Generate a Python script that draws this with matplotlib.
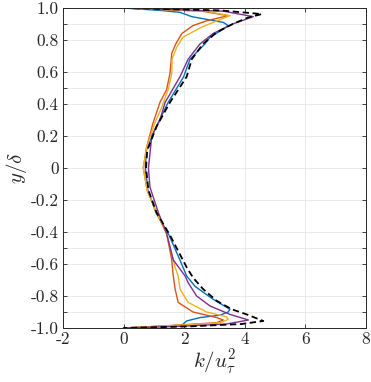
import matplotlib
matplotlib.use("Agg")
import matplotlib.pyplot as plt

# y/delta positions and k/u_tau^2 values, wall to wall
# black dashed reference
y_ref = [1.0, 0.985, 0.962, 0.94, 0.90, 0.848, 0.775, 0.68, 0.57, 0.41, 0.26, 0.11, 0.0,
         -0.14, -0.28, -0.42, -0.62, -0.685, -0.756, -0.83, -0.883, -0.915, -0.956, -0.975, -0.99, -1.0]
k_ref = [0.0, 3.2, 4.56, 4.1, 3.6, 3.07, 2.62, 2.25, 2.08, 1.53, 1.09, 0.78, 0.74,
         0.82, 1.09, 1.53, 2.08, 2.29, 2.62, 3.07, 3.57, 4.06, 4.61, 3.9, 2.2, 0.0]

y_blue = [1.0, 0.985, 0.973, 0.946, 0.91, 0.89, 0.875, 0.817, 0.775, 0.68, 0.57, 0.41, 0.24, 0.11, 0.0,
          -0.14, -0.28, -0.42, -0.575, -0.675, -0.74, -0.82, -0.883, -0.90, -0.92, -0.935, -0.956, -0.983, -1.0]
k_blue = [0.0, 1.2, 1.86, 2.25, 3.29, 3.45, 3.35, 2.85, 2.68, 2.19, 1.98, 1.47, 1.03, 0.75, 0.72,
          0.80, 1.07, 1.50, 1.86, 2.08, 2.36, 2.95, 3.51, 3.45, 3.18, 2.52, 2.08, 1.92, 0.0]

y_orange = [1.0, 0.98, 0.952, 0.92, 0.89, 0.84, 0.775, 0.717, 0.59, 0.49, 0.41, 0.28, 0.13, 0.0,
            -0.14, -0.28, -0.41, -0.575, -0.66, -0.756, -0.84, -0.90, -0.935, -0.95, -0.967, -0.985, -1.0]
k_orange = [0.0, 2.6, 3.45, 2.74, 2.29, 1.92, 1.72, 1.59, 1.53, 1.42, 1.20, 0.97, 0.76, 0.65,
            0.78, 1.09, 1.42, 1.59, 1.63, 1.70, 1.80, 2.29, 3.07, 3.29, 3.07, 1.5, 0.0]

y_yellow = [1.0, 0.98, 0.952, 0.91, 0.875, 0.817, 0.754, 0.68, 0.59, 0.49, 0.38, 0.28, 0.13, 0.0,
            -0.14, -0.28, -0.41, -0.62, -0.675, -0.756, -0.84, -0.90, -0.93, -0.946, -0.967, -0.985, -1.0]
k_yellow = [0.0, 2.7, 3.51, 2.95, 2.52, 1.96, 1.75, 1.60, 1.59, 1.47, 1.26, 1.03, 0.76, 0.65,
            0.78, 1.09, 1.42, 1.70, 1.80, 1.86, 2.13, 2.74, 3.40, 3.45, 3.2, 1.6, 0.0]

y_purple = [1.0, 0.98, 0.946, 0.90, 0.84, 0.775, 0.68, 0.57, 0.41, 0.30, 0.20, 0.09, 0.0,
            -0.12, -0.28, -0.41, -0.575, -0.675, -0.717, -0.80, -0.862, -0.915, -0.95, -0.975, -0.99, -1.0]
k_purple = [0.0, 3.3, 4.28, 3.6, 2.95, 2.52, 2.13, 1.86, 1.37, 1.20, 0.93, 0.87, 0.82,
            0.87, 1.15, 1.42, 1.64, 2.03, 2.13, 2.41, 2.85, 3.51, 4.12, 3.4, 1.8, 0.0]

y_ticks = [-1.0, -0.9, -0.8, -0.6, -0.5, -0.4, -0.2, 0.0, 0.2, 0.4, 0.5, 0.6, 0.8, 0.9, 1.0]
y_labels = ['-1.0', '', '-0.8', '-0.6', '', '-0.4', '-0.2', '0', '0.2', '0.4', '', '0.6', '0.8', '', '1.0']
x_ticks = [-2, 0, 2, 4, 6, 8]
x_labels = ['-2', '0', '2', '4', '6', '8']

plt.rcParams['font.family'] = 'cmr10'
plt.rcParams['mathtext.fontset'] = 'cm'
plt.rcParams['axes.unicode_minus'] = False

fig = plt.figure(figsize=(3.71, 3.82), dpi=100)
ax = fig.add_axes([63 / 371, 1 - 328 / 382, 303 / 371, 320 / 382])

lw = 1.0
ax.plot(k_blue, y_blue, color='#0072BD', linewidth=lw)
ax.plot(k_orange, y_orange, color='#D95319', linewidth=lw)
ax.plot(k_yellow, y_yellow, color='#EDB120', linewidth=lw)
ax.plot(k_purple, y_purple, color='#7E2F8E', linewidth=lw)
ax.plot(k_ref, y_ref, color='black', linestyle=(0, (3.5, 2)), linewidth=1.3)

ax.set_xlim(-2, 8)
ax.set_ylim(-1, 1)
ax.set_xticks(x_ticks)
ax.set_xticklabels(x_labels)
ax.set_yticks(y_ticks)
ax.set_yticklabels(y_labels)
ax.tick_params(direction='in', length=3, width=0.6, colors='#262626', labelsize=12.5,
               top=True, right=True, labelcolor='#262626', pad=3)
ax.grid(True, color='#e6e6e6', linewidth=0.6)
ax.set_axisbelow(True)
for s in ax.spines.values():
    s.set_linewidth(0.7)
    s.set_color('#262626')

ax.set_xlabel(r'$k/u_\tau^2$', fontsize=15, color='#262626', labelpad=0)
ax.set_ylabel(r'$y/\delta$', fontsize=15, color='#262626', labelpad=1)

fig.savefig('out.png', dpi=100)
